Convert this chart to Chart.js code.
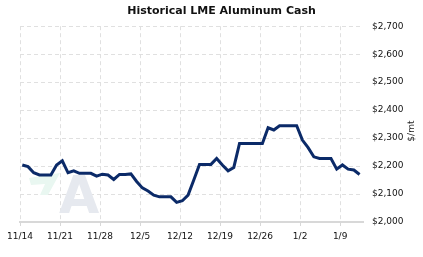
<!DOCTYPE html>
<html>
<head>
<meta charset="utf-8">
<script src="https://cdn.jsdelivr.net/npm/chart.js@4/dist/chart.umd.min.js"></script>
<style>
html,body{margin:0;padding:0;background:#fff;}
#wrap{width:423px;height:257px;position:relative;}
</style>
</head>
<body>
<div id="wrap"><canvas id="c" width="423" height="257"></canvas></div>
<script>
// ---- data ----
const startDate = [2011, 10, 14]; // 14 Nov 2011
const prices = [
  2204, 2198, 2176, 2168, 2168, 2168, 2204, 2219, 2176, 2183,
  2174, 2174, 2174, 2164, 2171, 2168, 2152, 2170, 2170, 2172,
  2145, 2122, 2111, 2096, 2090, 2090, 2090, 2070, 2076, 2096,
  2150, 2206, 2206, 2206, 2227, 2204, 2183, 2195, 2281, 2281,
  2281, 2281, 2281, 2337, 2329, 2344, 2344, 2344, 2344, 2293,
  2266, 2233, 2227, 2227, 2227, 2189, 2204, 2189, 2186, 2170
];
const tickLabels = ['11/14', '11/21', '11/28', '12/5', '12/12', '12/19', '12/26', '1/2', '1/9'];
const yTicks = [2000, 2100, 2200, 2300, 2400, 2500, 2600, 2700];
const chartTitle = 'Historical LME Aluminum Cash';
const unitTitle = '$/mt';

// one point per calendar day
const dates = prices.map((_, i) => new Date(startDate[0], startDate[1], startDate[2] + i));
const points = prices.map((v, i) => ({ x: i, y: v }));

const FONT = 'DejaVu Sans';

const watermark = {
  id: 'watermark',
  beforeDatasetsDraw(chart) {
    const ctx = chart.ctx;
    ctx.save();
    ctx.fillStyle = '#e9f7f1';
    ctx.beginPath();
    ctx.moveTo(29, 178);
    ctx.lineTo(60, 173);
    ctx.lineTo(48, 195);
    ctx.lineTo(40, 195);
    ctx.lineTo(45, 184);
    ctx.lineTo(31, 185);
    ctx.closePath();
    ctx.fill();
    ctx.fillStyle = '#e6e9ef';
    ctx.font = 'bold 52px "' + FONT + '"';
    ctx.textBaseline = 'alphabetic';
    ctx.fillText('A', 59, 213);
    ctx.restore();
  }
};

const unitTitlePlugin = {
  id: 'unitTitle',
  afterDraw(chart) {
    const ctx = chart.ctx;
    const y = (chart.chartArea.top + chart.chartArea.bottom) / 2 + 7;
    ctx.save();
    ctx.translate(412, y);
    ctx.rotate(-Math.PI / 2);
    ctx.fillStyle = '#222';
    ctx.font = '9px "' + FONT + '"';
    ctx.textAlign = 'center';
    ctx.textBaseline = 'middle';
    ctx.fillText(unitTitle, 0, 0);
    ctx.restore();
  }
};

new Chart(document.getElementById('c'), {
  type: 'line',
  data: {
    datasets: [{
      data: points,
      borderColor: '#0b2a68',
      borderWidth: 3,
      pointRadius: 0,
      tension: 0,
      fill: false,
      borderJoinStyle: 'miter'
    }]
  },
  options: {
    responsive: false,
    animation: false,
    layout: { padding: { left: 20, right: 0, top: 0, bottom: 15 } },
    plugins: {
      legend: { display: false },
      tooltip: { enabled: false },
      title: {
        display: true,
        text: chartTitle,
        color: '#111',
        font: { family: FONT, size: 11, weight: 'bold' },
        padding: { top: 5, bottom: 8 }
      }
    },
    scales: {
      x: {
        type: 'linear',
        min: -0.4,
        max: 59.6,
        afterBuildTicks(scale) {
          scale.ticks = tickLabels.map((_, k) => ({ value: 7 * k - 0.4 }));
        },
        afterFit(scale) { scale.height = 20; },
        ticks: {
          autoSkip: false,
          maxRotation: 0,
          padding: 5,
          color: '#111',
          font: { family: FONT, size: 9 },
          callback: (v, i) => tickLabels[i]
        },
        grid: {
          color: '#e0e0e0',
          tickColor: '#d8d8d8',
          tickLength: 4,
          drawTicks: true
        },
        border: { display: true, color: '#d8d8d8', width: 2, dash: [4, 3] }
      },
      y: {
        position: 'right',
        min: 2000,
        max: 2700,
        afterBuildTicks(scale) {
          scale.ticks = yTicks.map(v => ({ value: v }));
        },
        afterFit(scale) { scale.width = 60; },
        ticks: {
          padding: 9,
          color: '#111',
          font: { family: FONT, size: 9 },
          callback: v => '$' + v.toLocaleString('en-US')
        },
        grid: { color: '#e0e0e0', drawTicks: false },
        border: { display: false, dash: [4, 3] }
      }
    }
  },
  plugins: [watermark, unitTitlePlugin]
});
</script>
</body>
</html>
